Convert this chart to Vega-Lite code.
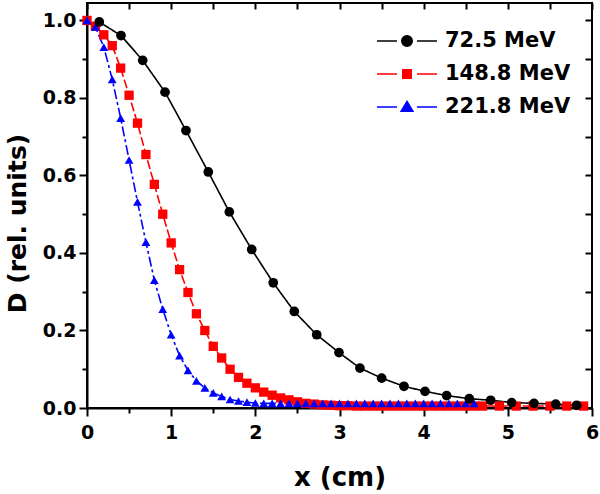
{
  "$schema": "https://vega.github.io/schema/vega-lite/v6.json",
  "width": 505,
  "height": 405,
  "autosize": {"type": "none"},
  "padding": {"left": 87, "top": 3, "right": 8, "bottom": 86},
  "background": "white",
  "config": {
    "view": {"stroke": "black", "strokeWidth": 2},
    "font": "DejaVu Sans"
  },
  "data": {
    "values": [
      {"series": "148.8 MeV", "x": 0.0, "D": 1.0},
      {"series": "148.8 MeV", "x": 0.1, "D": 0.985},
      {"series": "148.8 MeV", "x": 0.2, "D": 0.963},
      {"series": "148.8 MeV", "x": 0.3, "D": 0.935},
      {"series": "148.8 MeV", "x": 0.4, "D": 0.877},
      {"series": "148.8 MeV", "x": 0.5, "D": 0.807},
      {"series": "148.8 MeV", "x": 0.6, "D": 0.735},
      {"series": "148.8 MeV", "x": 0.7, "D": 0.654},
      {"series": "148.8 MeV", "x": 0.8, "D": 0.577},
      {"series": "148.8 MeV", "x": 0.9, "D": 0.5},
      {"series": "148.8 MeV", "x": 1.0, "D": 0.426},
      {"series": "148.8 MeV", "x": 1.1, "D": 0.357},
      {"series": "148.8 MeV", "x": 1.2, "D": 0.298},
      {"series": "148.8 MeV", "x": 1.3, "D": 0.243},
      {"series": "148.8 MeV", "x": 1.4, "D": 0.2},
      {"series": "148.8 MeV", "x": 1.5, "D": 0.159},
      {"series": "148.8 MeV", "x": 1.6, "D": 0.129},
      {"series": "148.8 MeV", "x": 1.7, "D": 0.1},
      {"series": "148.8 MeV", "x": 1.8, "D": 0.079},
      {"series": "148.8 MeV", "x": 1.9, "D": 0.064},
      {"series": "148.8 MeV", "x": 2.0, "D": 0.052},
      {"series": "148.8 MeV", "x": 2.1, "D": 0.041},
      {"series": "148.8 MeV", "x": 2.2, "D": 0.033},
      {"series": "148.8 MeV", "x": 2.3, "D": 0.026},
      {"series": "148.8 MeV", "x": 2.4, "D": 0.021},
      {"series": "148.8 MeV", "x": 2.5, "D": 0.016},
      {"series": "148.8 MeV", "x": 2.6, "D": 0.012},
      {"series": "148.8 MeV", "x": 2.7, "D": 0.01},
      {"series": "148.8 MeV", "x": 2.8, "D": 0.008},
      {"series": "148.8 MeV", "x": 2.9, "D": 0.007},
      {"series": "148.8 MeV", "x": 3.0, "D": 0.006},
      {"series": "148.8 MeV", "x": 3.1, "D": 0.006},
      {"series": "148.8 MeV", "x": 3.2, "D": 0.005},
      {"series": "148.8 MeV", "x": 3.3, "D": 0.005},
      {"series": "148.8 MeV", "x": 3.4, "D": 0.005},
      {"series": "148.8 MeV", "x": 3.5, "D": 0.005},
      {"series": "148.8 MeV", "x": 3.6, "D": 0.005},
      {"series": "148.8 MeV", "x": 3.7, "D": 0.005},
      {"series": "148.8 MeV", "x": 3.8, "D": 0.005},
      {"series": "148.8 MeV", "x": 3.9, "D": 0.005},
      {"series": "148.8 MeV", "x": 4.0, "D": 0.005},
      {"series": "148.8 MeV", "x": 4.1, "D": 0.005},
      {"series": "148.8 MeV", "x": 4.2, "D": 0.005},
      {"series": "148.8 MeV", "x": 4.3, "D": 0.005},
      {"series": "148.8 MeV", "x": 4.4, "D": 0.005},
      {"series": "148.8 MeV", "x": 4.5, "D": 0.005},
      {"series": "148.8 MeV", "x": 4.6, "D": 0.005},
      {"series": "148.8 MeV", "x": 4.7, "D": 0.005},
      {"series": "148.8 MeV", "x": 4.9, "D": 0.005},
      {"series": "148.8 MeV", "x": 5.1, "D": 0.005},
      {"series": "148.8 MeV", "x": 5.3, "D": 0.005},
      {"series": "148.8 MeV", "x": 5.5, "D": 0.005},
      {"series": "148.8 MeV", "x": 5.7, "D": 0.005},
      {"series": "148.8 MeV", "x": 5.9, "D": 0.005},
      {"series": "221.8 MeV", "x": 0.0, "D": 1.0},
      {"series": "221.8 MeV", "x": 0.1, "D": 0.983},
      {"series": "221.8 MeV", "x": 0.2, "D": 0.931},
      {"series": "221.8 MeV", "x": 0.3, "D": 0.848},
      {"series": "221.8 MeV", "x": 0.4, "D": 0.748},
      {"series": "221.8 MeV", "x": 0.5, "D": 0.64},
      {"series": "221.8 MeV", "x": 0.6, "D": 0.532},
      {"series": "221.8 MeV", "x": 0.7, "D": 0.428},
      {"series": "221.8 MeV", "x": 0.8, "D": 0.33},
      {"series": "221.8 MeV", "x": 0.9, "D": 0.255},
      {"series": "221.8 MeV", "x": 1.0, "D": 0.189},
      {"series": "221.8 MeV", "x": 1.1, "D": 0.135},
      {"series": "221.8 MeV", "x": 1.2, "D": 0.097},
      {"series": "221.8 MeV", "x": 1.3, "D": 0.07},
      {"series": "221.8 MeV", "x": 1.4, "D": 0.052},
      {"series": "221.8 MeV", "x": 1.5, "D": 0.039},
      {"series": "221.8 MeV", "x": 1.6, "D": 0.03},
      {"series": "221.8 MeV", "x": 1.7, "D": 0.022},
      {"series": "221.8 MeV", "x": 1.8, "D": 0.018},
      {"series": "221.8 MeV", "x": 1.9, "D": 0.015},
      {"series": "221.8 MeV", "x": 2.0, "D": 0.013},
      {"series": "221.8 MeV", "x": 2.1, "D": 0.012},
      {"series": "221.8 MeV", "x": 2.2, "D": 0.012},
      {"series": "221.8 MeV", "x": 2.3, "D": 0.012},
      {"series": "221.8 MeV", "x": 2.4, "D": 0.012},
      {"series": "221.8 MeV", "x": 2.5, "D": 0.012},
      {"series": "221.8 MeV", "x": 2.6, "D": 0.012},
      {"series": "221.8 MeV", "x": 2.7, "D": 0.012},
      {"series": "221.8 MeV", "x": 2.8, "D": 0.012},
      {"series": "221.8 MeV", "x": 2.9, "D": 0.012},
      {"series": "221.8 MeV", "x": 3.0, "D": 0.012},
      {"series": "221.8 MeV", "x": 3.1, "D": 0.012},
      {"series": "221.8 MeV", "x": 3.2, "D": 0.012},
      {"series": "221.8 MeV", "x": 3.3, "D": 0.012},
      {"series": "221.8 MeV", "x": 3.4, "D": 0.012},
      {"series": "221.8 MeV", "x": 3.5, "D": 0.012},
      {"series": "221.8 MeV", "x": 3.6, "D": 0.012},
      {"series": "221.8 MeV", "x": 3.7, "D": 0.012},
      {"series": "221.8 MeV", "x": 3.8, "D": 0.012},
      {"series": "221.8 MeV", "x": 3.9, "D": 0.012},
      {"series": "221.8 MeV", "x": 4.0, "D": 0.012},
      {"series": "221.8 MeV", "x": 4.1, "D": 0.012},
      {"series": "221.8 MeV", "x": 4.2, "D": 0.012},
      {"series": "221.8 MeV", "x": 4.3, "D": 0.012},
      {"series": "221.8 MeV", "x": 4.4, "D": 0.012},
      {"series": "221.8 MeV", "x": 4.5, "D": 0.012},
      {"series": "221.8 MeV", "x": 4.6, "D": 0.012},
      {"series": "72.5 MeV", "x": 0.146, "D": 0.996},
      {"series": "72.5 MeV", "x": 0.404, "D": 0.961},
      {"series": "72.5 MeV", "x": 0.662, "D": 0.897},
      {"series": "72.5 MeV", "x": 0.927, "D": 0.815},
      {"series": "72.5 MeV", "x": 1.176, "D": 0.716},
      {"series": "72.5 MeV", "x": 1.441, "D": 0.609},
      {"series": "72.5 MeV", "x": 1.691, "D": 0.506},
      {"series": "72.5 MeV", "x": 1.957, "D": 0.409},
      {"series": "72.5 MeV", "x": 2.213, "D": 0.323},
      {"series": "72.5 MeV", "x": 2.463, "D": 0.249},
      {"series": "72.5 MeV", "x": 2.729, "D": 0.189},
      {"series": "72.5 MeV", "x": 2.994, "D": 0.143},
      {"series": "72.5 MeV", "x": 3.243, "D": 0.103},
      {"series": "72.5 MeV", "x": 3.501, "D": 0.077},
      {"series": "72.5 MeV", "x": 3.766, "D": 0.056},
      {"series": "72.5 MeV", "x": 4.016, "D": 0.043},
      {"series": "72.5 MeV", "x": 4.273, "D": 0.032},
      {"series": "72.5 MeV", "x": 4.542, "D": 0.024},
      {"series": "72.5 MeV", "x": 4.796, "D": 0.02},
      {"series": "72.5 MeV", "x": 5.046, "D": 0.014},
      {"series": "72.5 MeV", "x": 5.311, "D": 0.012},
      {"series": "72.5 MeV", "x": 5.569, "D": 0.01},
      {"series": "72.5 MeV", "x": 5.818, "D": 0.007}
    ]
  },
  "layer": [
    {
      "mark": {"type": "line", "strokeWidth": 1.6},
      "encoding": {
        "x": {
          "field": "x", "type": "quantitative",
          "scale": {"domain": [0, 6], "nice": false, "zero": false},
          "axis": {
            "orient": "bottom",
            "values": [0, 0.5, 1, 1.5, 2, 2.5, 3, 3.5, 4, 4.5, 5, 5.5, 6],
            "labelExpr": "datum.value % 1 == 0 ? format(datum.value, 'd') : ''",
            "tickSize": {"condition": {"test": "datum.value % 1 == 0", "value": 8}, "value": 5},
            "tickWidth": 2, "tickColor": "black",
            "domainColor": "black", "domainWidth": 2,
            "grid": false,
            "labelFont": "DejaVu Sans", "labelFontSize": 19, "labelFontWeight": "bold", "labelColor": "black",
            "labelPadding": 7, "labelFlush": false, "labelOverlap": false,
            "title": "x (cm)", "titleFont": "DejaVu Sans", "titleFontSize": 26, "titleFontWeight": "bold", "titleColor": "black",
            "titlePadding": 22
          }
        },
        "y": {
          "field": "D", "type": "quantitative",
          "scale": {"domain": [0, 1.045], "nice": false, "zero": false},
          "axis": {
            "orient": "left",
            "values": [0, 0.1, 0.2, 0.3, 0.4, 0.5, 0.6, 0.7, 0.8, 0.9, 1.0],
            "labelExpr": "round(datum.value * 10) % 2 == 0 ? format(datum.value, '.1f') : ''",
            "tickSize": {"condition": {"test": "round(datum.value * 10) % 2 == 0", "value": 8}, "value": 5},
            "tickWidth": 2, "tickColor": "black",
            "domainColor": "black", "domainWidth": 2,
            "grid": false,
            "labelFont": "DejaVu Sans", "labelFontSize": 19, "labelFontWeight": "bold", "labelColor": "black",
            "labelPadding": 3, "labelOverlap": false, "labelFlush": false,
            "title": "D (rel. units)", "titleFont": "DejaVu Sans", "titleFontSize": 25, "titleFontWeight": "bold", "titleColor": "black",
            "titlePadding": 12, "titleY": 220
          }
        },
        "stroke": {
          "field": "series", "type": "nominal",
          "scale": {"domain": ["72.5 MeV", "148.8 MeV", "221.8 MeV"], "range": ["#000000", "#ff0000", "#0000ff"]},
          "legend": null
        },
        "strokeDash": {
          "field": "series", "type": "nominal",
          "scale": {"domain": ["72.5 MeV", "148.8 MeV", "221.8 MeV"], "range": [[1, 0], [9, 3], [10, 3, 3, 3]]},
          "legend": null
        }
      }
    },
    {
      "mark": {"type": "point", "filled": true, "opacity": 1},
      "encoding": {
        "x": {
          "field": "x", "type": "quantitative",
          "axis": {
            "orient": "top",
            "values": [0, 0.5, 1, 1.5, 2, 2.5, 3, 3.5, 4, 4.5, 5, 5.5, 6],
            "labels": false, "domain": false, "grid": false,
            "tickSize": -6, "tickWidth": 2, "tickColor": "black",
            "title": null
          }
        },
        "y": {
          "field": "D", "type": "quantitative",
          "axis": {
            "orient": "right",
            "values": [0, 0.1, 0.2, 0.3, 0.4, 0.5, 0.6, 0.7, 0.8, 0.9, 1.0],
            "labels": false, "domain": false, "grid": false,
            "tickSize": -7, "tickWidth": 2, "tickColor": "black",
            "title": null
          }
        },
        "fill": {
          "field": "series", "type": "nominal",
          "scale": {"domain": ["72.5 MeV", "148.8 MeV", "221.8 MeV"], "range": ["#000000", "#ff0000", "#0000ff"]},
          "legend": null
        },
        "shape": {
          "field": "series", "type": "nominal",
          "scale": {"domain": ["72.5 MeV", "148.8 MeV", "221.8 MeV"], "range": ["circle", "square", "triangle-up"]},
          "legend": null
        },
        "size": {
          "field": "series", "type": "nominal",
          "scale": {"domain": ["72.5 MeV", "148.8 MeV", "221.8 MeV"], "range": [95, 78, 135]},
          "legend": null
        }
      }
    },
    {
      "transform": [{"filter": "datum.x < -1"}],
      "mark": {"type": "point", "filled": true, "opacity": 1, "size": 400, "strokeWidth": 1.6},
      "encoding": {
        "x": {"field": "x", "type": "quantitative", "axis": null},
        "y": {"field": "D", "type": "quantitative", "axis": null},
        "fill": {
          "field": "series", "type": "nominal",
          "scale": {"domain": ["72.5 MeV", "148.8 MeV", "221.8 MeV"], "range": ["#000000", "#ff0000", "#0000ff"]},
          "legend": {
            "orient": "none", "legendX": 309, "legendY": 27,
            "title": null,
            "symbolSize": 400, "symbolStrokeWidth": 1.6, "symbolOpacity": 1,
            "labelFont": "DejaVu Sans", "labelFontSize": 21, "labelFontWeight": "bold", "labelColor": "black",
            "labelOffset": 27, "rowPadding": 12, "labelLimit": 300
          }
        },
        "stroke": {
          "field": "series", "type": "nominal",
          "scale": {"domain": ["72.5 MeV", "148.8 MeV", "221.8 MeV"], "range": ["#000000", "#ff0000", "#0000ff"]},
          "legend": {
            "orient": "none", "legendX": 309, "legendY": 27,
            "title": null,
            "symbolSize": 400, "symbolStrokeWidth": 1.6, "symbolOpacity": 1,
            "labelFont": "DejaVu Sans", "labelFontSize": 21, "labelFontWeight": "bold", "labelColor": "black",
            "labelOffset": 27, "rowPadding": 12, "labelLimit": 300
          }
        },
        "shape": {
          "field": "series", "type": "nominal",
          "scale": {
            "domain": ["72.5 MeV", "148.8 MeV", "221.8 MeV"],
            "range": [
              "M-3,0H-1M1,0H3M-0.52,0A0.52,0.52,0,1,1,0.52,0A0.52,0.52,0,1,1,-0.52,0Z",
              "M-3,0H-1M1,0H3M-0.42,-0.42H0.42V0.42H-0.42Z",
              "M-3,0H-1M1,0H3M0,-0.55L0.58,0.42L-0.58,0.42Z"
            ]
          },
          "legend": {
            "orient": "none", "legendX": 309, "legendY": 27,
            "title": null,
            "symbolSize": 400, "symbolStrokeWidth": 1.6, "symbolOpacity": 1,
            "labelFont": "DejaVu Sans", "labelFontSize": 21, "labelFontWeight": "bold", "labelColor": "black",
            "labelOffset": 27, "rowPadding": 12, "labelLimit": 300
          }
        }
      }
    }
  ],
  "resolve": {
    "axis": {"x": "independent", "y": "independent"},
    "scale": {"fill": "independent", "stroke": "independent", "shape": "independent", "size": "independent"}
  }
}
